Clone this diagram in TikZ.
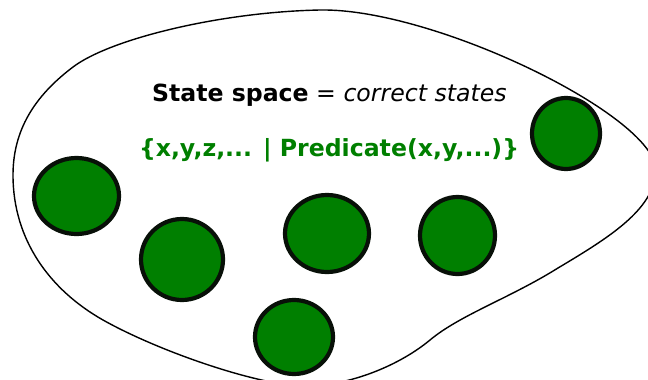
\documentclass[tikz,border=0pt]{standalone}
\usepackage{fontspec}
\setmainfont{DejaVu Sans}
\usetikzlibrary{shapes.geometric}
\definecolor{stategreen}{HTML}{007F00}
\definecolor{ringdark}{HTML}{081008}
\tikzset{
  statebox/.style={ellipse, draw=ringdark, line width=4.2pt, fill=stategreen, inner sep=0pt},
  blob/.style={draw=black, line width=1.4pt},
  lbl/.style={font=\fontsize{23.6}{28}\selectfont, anchor=base, inner sep=0pt}
}
\begin{document}
\begin{tikzpicture}[x=1pt,y=-1pt]
\useasboundingbox (0,0) rectangle (648,380);
\begin{scope}
\clip (0,0) rectangle (648,380);
\draw[blob] (13,175)
  .. controls (13,125) and (40,92) .. (73,67)
  .. controls (110,39) and (220,12) .. (320,10)
  .. controls (435,8) and (660,118) .. (656,172)
  .. controls (653,210) and (610,237) .. (558,268)
  .. controls (510,298) and (460,315) .. (430,340)
  .. controls (400,365) and (350,386) .. (305,386)
  .. controls (260,386) and (160,352) .. (103,320)
  .. controls (50,290) and (13,240) .. (13,175) -- cycle;
\end{scope}
\node[lbl] (title) at (329.4,101.5) {\textbf{State space} = \textit{correct states}};
\node[lbl, text=stategreen] (pred) at (329,156) {\textbf{\{x,y,z,... | Predicate(x,y,...)\}}};
\node[statebox, minimum width=85pt, minimum height=76pt] (s1) at (76.5,196) {};
\node[statebox, minimum width=82pt, minimum height=81pt] (s2) at (182,259.5) {};
\node[statebox, minimum width=84pt, minimum height=77pt] (s3) at (327,233.5) {};
\node[statebox, minimum width=75pt, minimum height=77pt] (s4) at (457.5,235.5) {};
\node[statebox, minimum width=78pt, minimum height=74pt] (s5) at (294,337) {};
\node[statebox, minimum width=68pt, minimum height=71pt] (s6) at (566,133.5) {};
\end{tikzpicture}
\end{document}
